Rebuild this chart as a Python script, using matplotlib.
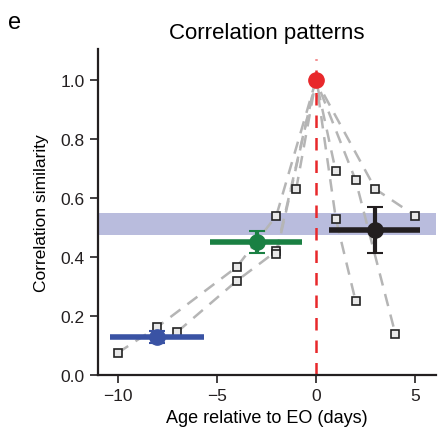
import matplotlib.pyplot as plt

plt.rcParams['font.family'] = ['Liberation Sans', 'DejaVu Sans']

# individual trajectories (days relative to EO, correlation similarity)
traj_days = [
    [-10, -8, -4, -2, 0, 1],
    [-7, -4, -2, 0, 1, 2],
    [-2, 0, 2, 4],
    [-1, 0, 3, 5],
]
traj_vals = [
    [0.075, 0.163, 0.366, 0.54, 1.0, 0.69],
    [0.146, 0.319, 0.42, 1.0, 0.53, 0.25],
    [0.41, 1.0, 0.66, 0.14],
    [0.63, 1.0, 0.63, 0.54],
]

# group means with errors
mean_x = [-8.0, -3.0, 3.0]
mean_y = [0.128, 0.45, 0.49]
mean_xerr = [[2.4, 2.35, 2.35], [2.35, 2.3, 2.25]]
mean_yerr = [[0.02, 0.038, 0.078], [0.02, 0.038, 0.08]]
mean_colors = ['#3a53a4', '#1a8043', '#231f20']

band_lo, band_hi = 0.473, 0.549

fig = plt.figure(figsize=(4.41, 4.39), dpi=100)
ax = fig.add_axes([0.222, 0.1435, 0.767, 0.7425])

ax.axhspan(band_lo, band_hi, color='#b9bcdd', zorder=0, lw=0)

for d, v in zip(traj_days, traj_vals):
    ax.plot(d, v, color='#b5b5b5', lw=1.8, dashes=(5, 3.5), zorder=1)
    pts = [(a, b) for a, b in zip(d, v) if a != 0]
    ax.plot([p[0] for p in pts], [p[1] for p in pts], 's', ms=5.8,
            mfc='#e8e8e8', mec='#222222', mew=1.2, ls='none', zorder=3)

ax.plot([0, 0], [0, 1.07], color='#e8282b', lw=1.8, dashes=(5, 4), zorder=2)

for i in range(3):
    ax.errorbar(mean_x[i], mean_y[i],
                xerr=[[mean_xerr[0][i]], [mean_xerr[1][i]]],
                fmt='none', ecolor=mean_colors[i], elinewidth=4, capsize=0, zorder=4)
    ax.errorbar(mean_x[i], mean_y[i],
                yerr=[[mean_yerr[0][i]], [mean_yerr[1][i]]],
                fmt='o', color=mean_colors[i], ms=11, elinewidth=3,
                capsize=6, capthick=1.5, zorder=5)

ax.plot(0, 1.0, 'o', color='#e8282b', ms=11, zorder=6)

ax.set_xlim(-11, 6.06)
ax.set_ylim(0, 1.105)
ax.set_xticks([-10, -5, 0, 5])
ax.set_yticks([0.0, 0.2, 0.4, 0.6, 0.8, 1.0])
ax.set_yticklabels(['0.0', '0.2', '0.4', '0.6', '0.8', '1.0'])
for s in ['top', 'right']:
    ax.spines[s].set_visible(False)
for s in ['left', 'bottom']:
    ax.spines[s].set_linewidth(1.6)
    ax.spines[s].set_color('#231f20')
ax.tick_params(direction='out', length=6, width=1.2, labelsize=12.5, colors='#231f20')

ax.set_xlabel('Age relative to EO (days)', fontsize=13)
ax.set_ylabel('Correlation similarity', fontsize=12.5, labelpad=8)
ax.set_title('Correlation patterns', fontsize=16, pad=8)
fig.text(0.018, 0.935, 'e', fontsize=17)

fig.savefig('out.png', dpi=100)
